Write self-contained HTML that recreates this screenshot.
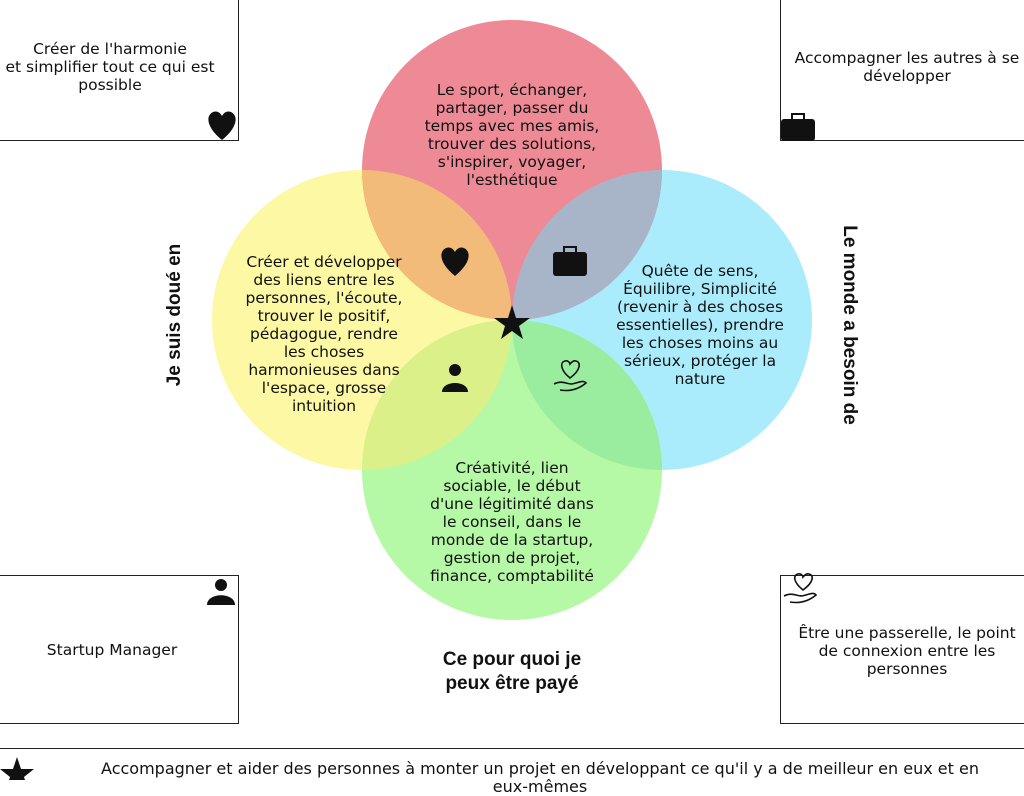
<!DOCTYPE html>
<html><head><meta charset="utf-8"><style>
body{margin:0;width:1024px;height:780px;overflow:hidden;background:#fff;font-family:"DejaVu Sans","Liberation Sans",sans-serif;position:relative}
.b{position:absolute;border:1.5px solid #222;box-sizing:border-box}
.t{position:absolute;text-align:center;font-size:15.5px;line-height:18px;color:#111;white-space:nowrap}
.h{position:absolute;font-weight:bold;font-size:19px;color:#111;text-align:center;line-height:24px;font-family:"Liberation Sans",sans-serif;white-space:nowrap}
</style></head><body>
<div class="b" style="left:-5px;top:-5px;width:244px;height:146px"></div>
<div class="b" style="left:780px;top:-5px;width:250px;height:146px"></div>
<div class="b" style="left:-5px;top:575px;width:244px;height:149px"></div>
<div class="b" style="left:780px;top:575px;width:250px;height:149px"></div>
<div style="position:absolute;left:0;top:748px;width:1024px;border-top:1.5px solid #222"></div>
<svg style="position:absolute;left:0;top:0" width="1024" height="780">
<defs>
<clipPath id="cr"><circle cx="512" cy="170" r="150"/></clipPath>
<clipPath id="cg"><circle cx="512" cy="470" r="150"/></clipPath>
</defs>
<circle cx="362" cy="320" r="150" fill="#fdf8a3"/>
<circle cx="662" cy="320" r="150" fill="#aaecfb"/>
<circle cx="512" cy="470" r="150" fill="#b5f8a5"/>
<circle cx="512" cy="170" r="150" fill="#ee8a95"/>
<g clip-path="url(#cr)">
<circle cx="362" cy="320" r="150" fill="#f3bb7a"/>
<circle cx="662" cy="320" r="150" fill="#a8b5c8"/>
</g>
<g clip-path="url(#cg)">
<circle cx="362" cy="320" r="150" fill="#dcf08a"/>
<circle cx="662" cy="320" r="150" fill="#9aec9e"/>
</g>
<polygon points="512,305 516,318 530,318 519,326 523,339 512,331 501,339 505,326 494,318 508,318" fill="#111"/>
<path d="M455 276 C440 264 438 252 446 248 C451 246 454 250 455 252 C456 250 459 246 464 248 C472 252 470 264 455 276Z" fill="#111"/>
<path d="M222 140 C207 128 205 116 213 112 C218 110 221 114 222 116 C223 114 226 110 231 112 C239 116 237 128 222 140Z" fill="#111"/>
<rect x="553" y="252" width="34" height="24" rx="3" fill="#111"/><rect x="564" y="247" width="12" height="6" fill="none" stroke="#111" stroke-width="2"/>
<rect x="781" y="119" width="34" height="22" rx="3" fill="#111"/><rect x="792" y="114" width="12" height="6" fill="none" stroke="#111" stroke-width="2"/>
<circle cx="455" cy="370" r="6" fill="#111"/><path d="M442 392 C442 380 468 380 468 392Z" fill="#111"/>
<circle cx="221" cy="585" r="6" fill="#111"/><path d="M207 605 C207 592 235 592 235 605Z" fill="#111"/>
<path d="M570 378 C560 370 560 362 565 361 C568 360 570 363 570 364 C571 363 573 360 576 361 C581 362 581 370 570 378Z" fill="none" stroke="#111" stroke-width="1.6"/>
<path d="M554 384 C562 380 566 384 572 384 C580 382 584 380 586 383 C580 388 572 392 560 390" fill="none" stroke="#111" stroke-width="1.6"/>
<path d="M803 590 C793 582 793 575 798 574 C801 573 803 576 803 577 C804 576 806 573 809 574 C814 575 814 582 803 590Z" fill="none" stroke="#111" stroke-width="1.6"/>
<path d="M784 596 C792 592 796 596 802 596 C810 594 814 592 816 595 C810 600 802 604 790 602" fill="none" stroke="#111" stroke-width="1.6"/>
<polygon points="17,757 21,769 34,769 24,777 28,789 17,782 6,789 10,777 0,769 13,769" fill="#111"/>
</svg>
<div class="t" style="left:-10px;top:40px;width:240px">Créer de l'harmonie<br>et simplifier tout ce qui est<br>possible</div>
<div class="t" style="left:782px;top:49px;width:250px">Accompagner les autres à se<br>développer</div>
<div class="t" style="left:0;top:641px;width:224px">Startup Manager</div>
<div class="t" style="left:782px;top:624px;width:250px">Être une passerelle, le point<br>de connexion entre les<br>personnes</div>
<div class="t" style="left:412px;top:81px;width:200px">Le sport, échanger,<br>partager, passer du<br>temps avec mes amis,<br>trouver des solutions,<br>s'inspirer, voyager,<br>l'esthétique</div>
<div class="t" style="left:224px;top:253px;width:200px">Créer et développer<br>des liens entre les<br>personnes, l'écoute,<br>trouver le positif,<br>pédagogue, rendre<br>les choses<br>harmonieuses dans<br>l'espace, grosse<br>intuition</div>
<div class="t" style="left:600px;top:262px;width:200px">Quête de sens,<br>Équilibre, Simplicité<br>(revenir à des choses<br>essentielles), prendre<br>les choses moins au<br>sérieux, protéger la<br>nature</div>
<div class="t" style="left:412px;top:459px;width:200px">Créativité, lien<br>sociable, le début<br>d'une légitimité dans<br>le conseil, dans le<br>monde de la startup,<br>gestion de projet,<br>finance, comptabilité</div>
<div class="h" style="left:412px;top:648px;width:200px">Ce pour quoi je<br>peux être payé</div>
<div class="h" style="left:75px;top:303px;width:200px;transform:rotate(-90deg)">Je suis doué en</div>
<div class="h" style="left:749px;top:313px;width:200px;transform:rotate(90deg)">Le monde a besoin de</div>
<div class="t" style="left:60px;top:760px;width:960px;font-size:16px">Accompagner et aider des personnes à monter un projet en développant ce qu'il y a de meilleur en eux et en<br>eux-mêmes</div>
</body></html>
